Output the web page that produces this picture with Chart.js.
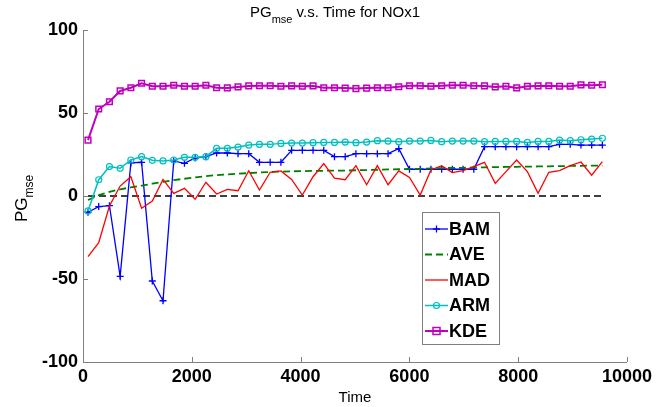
<!DOCTYPE html>
<html>
<head>
<meta charset="utf-8">
<script src="https://cdn.jsdelivr.net/npm/chart.js@4/dist/chart.umd.min.js"></script>
<style>
  html, body { margin: 0; padding: 0; background: #fff; }
  #wrap { width: 656px; height: 407px; }
</style>
</head>
<body>
<div id="wrap"><canvas id="graph_pg" width="656" height="407"></canvas></div>
<script>
// sample times (roughly every ~197 s)
var times = [92, 289, 486, 683, 880, 1077, 1274, 1471, 1668, 1865, 2062, 2259, 2456, 2653, 2850, 3047,
    3244, 3441, 3638, 3835, 4032, 4229, 4426, 4623, 4820, 5017, 5214, 5411, 5608, 5805, 6002, 6199,
    6396, 6593, 6790, 6987, 7184, 7381, 7578, 7775, 7972, 8169, 8366, 8563, 8760, 8957, 9154, 9351, 9548];

var bam = [-9.8, -6.4, -5.8, -48.4, 19.9, 20.3, -51.2, -63.1, 21.1, 19.7, 22.9, 23.7, 25.9, 25.9, 25.5, 25.5,
    20.3, 20.3, 20.3, 27.5, 27.5, 27.5, 27.5, 23.7, 23.7, 25.5, 25.5, 25.5, 25.5, 28.5, 16.1, 16.1,
    16.1, 16.1, 16.1, 16.1, 16.1, 29.7, 29.7, 29.7, 29.7, 29.7, 29.7, 29.7, 31.1, 31.1, 30.7, 30.7, 30.7];

var ave = [-2.4, 0.5, 2.5, 4.0, 5.2, 6.2, 7.4, 8.5, 9.6, 10.4, 11.2, 11.9, 12.6, 13.0, 13.4, 13.8,
    14.2, 14.5, 14.7, 14.9, 15.0, 15.1, 15.2, 15.3, 15.3, 15.5, 15.6, 15.8, 16.0, 16.1, 16.3, 16.4,
    16.6, 16.8, 16.9, 17.0, 17.2, 17.3, 17.4, 17.5, 17.6, 17.7, 17.8, 17.9, 18.0, 18.1, 18.2, 18.3, 18.3];

var mad = [-36.5, -28.1, -6.0, 6.0, 11.6, -7.4, -3.0, 10.0, 1.6, 4.6, -2.0, 8.3, 1.2, 4.0, 3.2, 15.2,
    3.6, 14.3, 15.1, 10.0, 0.6, 11.6, 19.5, 10.8, 9.8, 18.3, 6.8, 18.3, 6.8, 15.1, 11.2, 0.6,
    15.7, 18.3, 14.1, 15.3, 17.7, 20.3, 7.6, 14.7, 21.7, 14.7, 1.6, 14.3, 15.3, 18.3, 20.5, 12.5, 20.7];

var arm = [-9.0, 9.8, 17.7, 16.7, 21.7, 23.7, 21.5, 21.1, 21.7, 23.3, 23.3, 23.7, 28.7, 28.7, 29.5, 30.7,
    31.1, 31.1, 31.7, 31.9, 31.9, 32.1, 32.3, 32.3, 32.5, 32.1, 32.5, 33.3, 33.1, 32.7, 33.1, 33.1,
    33.5, 32.7, 33.1, 33.1, 33.1, 32.7, 32.9, 32.9, 32.9, 32.3, 32.9, 32.9, 33.7, 33.3, 33.9, 34.3, 34.8];

var kde = [33.7, 52.4, 56.8, 63.3, 65.2, 67.9, 66.1, 66.1, 66.7, 66.1, 66.1, 66.7, 65.2, 65.1, 65.7, 66.3,
    66.4, 66.4, 66.1, 66.3, 66.1, 66.3, 65.2, 65.2, 65.0, 64.7, 65.0, 65.2, 65.2, 65.8, 66.4, 66.4,
    66.1, 66.4, 66.7, 66.7, 66.4, 66.3, 65.7, 66.1, 65.1, 66.1, 66.3, 66.4, 66.1, 66.1, 66.9, 66.7, 67.0];

var xTicks = [0, 2000, 4000, 6000, 8000, 10000];
var yTicks = [-100, -50, 0, 50, 100];

var FONT = '"Liberation Sans", Arial, Helvetica, sans-serif';

function toPoints(values) {
    var pts = [];
    for (var i = 0; i < values.length; i++) {
        pts.push({ x: times[i], y: values[i] });
    }
    return pts;
}

function drawMarker(ctx, style, x, y, color) {
    ctx.strokeStyle = color;
    ctx.beginPath();
    if (style === 'cross') {
        ctx.moveTo(x - 3.5, y); ctx.lineTo(x + 3.5, y);
        ctx.moveTo(x, y - 3.5); ctx.lineTo(x, y + 3.5);
    } else if (style === 'circle') {
        ctx.arc(x, y, 3, 0, Math.PI * 2);
    } else if (style === 'rect') {
        ctx.rect(x - 3.5, y - 3.5, 7, 7);
    }
    ctx.stroke();
}

// title, y label with subscript, inward ticks, boxed legend
var decorations = {
    id: 'decorations',
    afterDraw: function (chart) {
        var ctx = chart.ctx;
        var xs = chart.scales.x;
        var ys = chart.scales.y;
        var area = chart.chartArea;
        var i;
        ctx.save();

        // inward tick marks
        ctx.strokeStyle = '#7f7f7f';
        ctx.lineWidth = 1;
        ctx.beginPath();
        for (i = 0; i < xTicks.length; i++) {
            var px = Math.round(xs.getPixelForValue(xTicks[i])) + 0.5;
            ctx.moveTo(px, area.bottom);
            ctx.lineTo(px, area.bottom - 5);
        }
        for (i = 0; i < yTicks.length; i++) {
            var py = Math.round(ys.getPixelForValue(yTicks[i])) + 0.5;
            ctx.moveTo(area.left, py);
            ctx.lineTo(area.left + 5, py);
        }
        ctx.stroke();

        // title
        ctx.fillStyle = '#000';
        ctx.textBaseline = 'alphabetic';
        ctx.textAlign = 'left';
        var tx = 250;
        ctx.font = '15px ' + FONT;
        ctx.fillText('PG', tx, 17);
        tx += ctx.measureText('PG').width;
        ctx.font = '11px ' + FONT;
        ctx.fillText('mse', tx, 23);
        tx += ctx.measureText('mse').width;
        ctx.font = '15px ' + FONT;
        ctx.fillText(' v.s. Time for NOx1', tx, 17);

        // y axis label, rotated
        ctx.save();
        ctx.translate(27, 222);
        ctx.rotate(-Math.PI / 2);
        ctx.font = '17px ' + FONT;
        ctx.fillText('PG', 0, 0);
        var w = ctx.measureText('PG').width;
        ctx.font = '12px ' + FONT;
        ctx.fillText('mse', w, 6);
        ctx.restore();

        // x axis label
        ctx.font = '15px ' + FONT;
        ctx.textAlign = 'center';
        ctx.fillText('Time', (area.left + area.right) / 2, 402);

        // legend
        var box = { x: 422.5, y: 212.5, w: 77, h: 132 };
        ctx.fillStyle = '#fff';
        ctx.fillRect(box.x, box.y, box.w, box.h);
        ctx.strokeStyle = '#7f7f7f';
        ctx.lineWidth = 1;
        ctx.strokeRect(box.x, box.y, box.w, box.h);
        var sets = chart.data.datasets;
        var row = 0;
        for (i = 0; i < sets.length; i++) {
            var ds = sets[i];
            if (!ds.label) {
                continue;
            }
            var ly = 229 + row * 25.5;
            ctx.strokeStyle = ds.borderColor;
            ctx.lineWidth = ds.borderWidth;
            ctx.setLineDash(ds.borderDash || []);
            ctx.beginPath();
            ctx.moveTo(425, ly);
            ctx.lineTo(448, ly);
            ctx.stroke();
            ctx.setLineDash([]);
            if (ds.pointRadius > 0) {
                ctx.lineWidth = ds.pointBorderWidth || 1;
                drawMarker(ctx, ds.pointStyle, 436.5, ly, ds.borderColor);
            }
            ctx.fillStyle = '#000';
            ctx.font = 'bold 18px ' + FONT;
            ctx.textAlign = 'left';
            ctx.textBaseline = 'middle';
            ctx.fillText(ds.label, 449, ly + 1);
            row++;
        }
        ctx.restore();
    }
};

function plainLabel(value) {
    return String(value);
}

var ctx = document.getElementById('graph_pg').getContext('2d');
var pgChart = new Chart(ctx, {
    type: 'line',
    data: {
        datasets: [
            {
                data: [{ x: times[0], y: 0 }, { x: times[times.length - 1], y: 0 }],
                borderColor: '#000', borderWidth: 1.5, borderDash: [7, 4],
                pointRadius: 0, order: 10
            },
            {
                label: 'BAM', data: toPoints(bam),
                borderColor: '#0000ff', borderWidth: 1.3,
                pointStyle: 'cross', pointRadius: 3.5, pointBorderWidth: 1.3,
                pointBackgroundColor: '#0000ff', order: 5
            },
            {
                label: 'AVE', data: toPoints(ave),
                borderColor: '#008000', borderWidth: 1.8, borderDash: [7, 4],
                pointRadius: 0, order: 4
            },
            {
                label: 'MAD', data: toPoints(mad),
                borderColor: '#ff0000', borderWidth: 1.3,
                pointRadius: 0, order: 3
            },
            {
                label: 'ARM', data: toPoints(arm),
                borderColor: '#00bfbf', borderWidth: 1.5,
                pointStyle: 'circle', pointRadius: 3, pointBorderWidth: 1.2,
                pointBackgroundColor: 'rgba(255,255,255,0)', order: 2
            },
            {
                label: 'KDE', data: toPoints(kde),
                borderColor: '#bf00bf', borderWidth: 2,
                pointStyle: 'rect', pointRadius: 4, pointBorderWidth: 1.5,
                pointBackgroundColor: 'rgba(255,255,255,0)', order: 1
            }
        ]
    },
    options: {
        responsive: false,
        animation: false,
        events: [],
        layout: { padding: { left: 0, right: 29, top: 30, bottom: 0 } },
        plugins: {
            legend: { display: false },
            tooltip: { enabled: false },
            title: { display: false }
        },
        elements: { line: { tension: 0 } },
        scales: {
            x: {
                type: 'linear', min: 0, max: 10000,
                grid: { display: false, drawTicks: false },
                border: { display: true, color: '#7f7f7f', width: 1 },
                afterFit: function (scale) { scale.height = 45; },
                afterBuildTicks: function (scale) {
                    scale.ticks = xTicks.map(function (v) { return { value: v }; });
                },
                ticks: {
                    color: '#000', padding: 4, autoSkip: false, maxRotation: 0,
                    callback: plainLabel,
                    font: { family: FONT, size: 18, weight: 'bold' }
                }
            },
            y: {
                type: 'linear', min: -100, max: 100,
                grid: { display: false, drawTicks: false },
                border: { display: true, color: '#7f7f7f', width: 1 },
                afterFit: function (scale) { scale.width = 83; },
                afterBuildTicks: function (scale) {
                    scale.ticks = yTicks.map(function (v) { return { value: v }; });
                },
                ticks: {
                    color: '#000', padding: 5,
                    callback: plainLabel,
                    font: { family: FONT, size: 18, weight: 'bold' }
                }
            }
        }
    },
    plugins: [decorations]
});
</script>
</body>
</html>
